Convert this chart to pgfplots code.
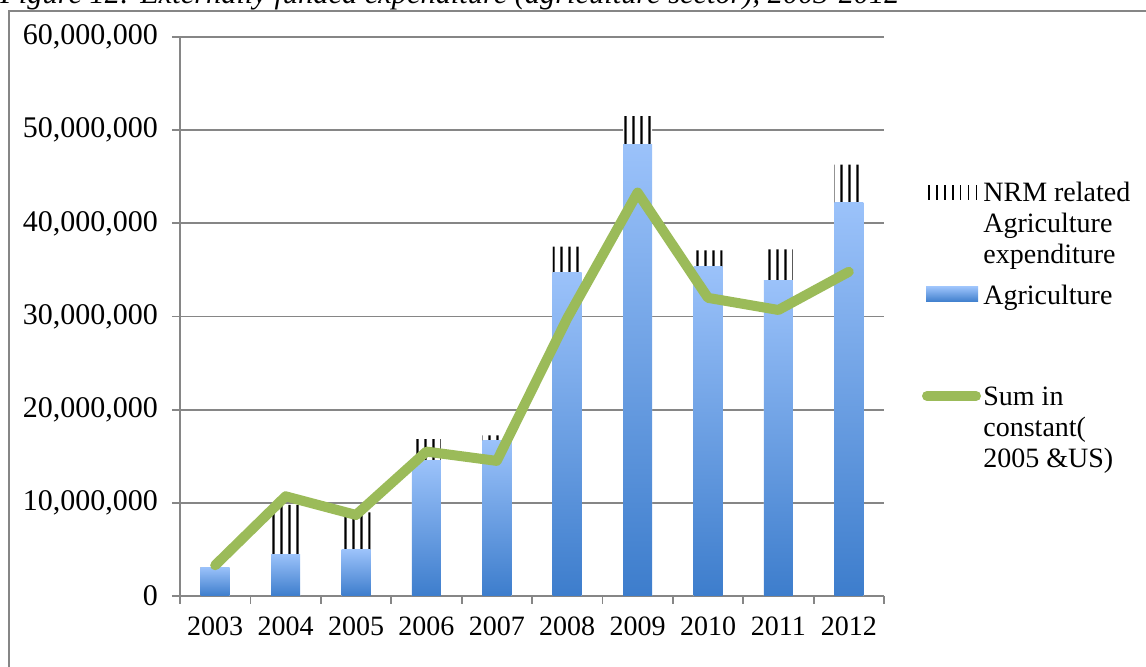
\documentclass[border=0pt]{standalone}
\usepackage{pgfplots}
\usepackage{pgfplotstable}
\pgfplotsset{compat=1.18}
\usepackage{fontspec}
\setmainfont{Liberation Serif}
\usetikzlibrary{patterns}

\definecolor{gridgray}{RGB}{134,134,134}
\definecolor{agrtop}{RGB}{155,194,250}
\definecolor{agrbot}{RGB}{61,125,204}
\definecolor{sumgreen}{RGB}{155,187,89}

% tall tile so the renderer shows no seams between tiles
\pgfdeclarepatternformonly{nrmlines}{\pgfpointorigin}{\pgfqpoint{4pt}{60pt}}{\pgfqpoint{4pt}{60pt}}{
  \pgfpathrectangle{\pgfqpoint{0.2pt}{-1pt}}{\pgfqpoint{1.3pt}{62pt}}
  \pgfusepath{fill}
}

% x = category index (2003 = 0); total = Agriculture + NRM related
\pgfplotstableread{
x agr      total    sum
0 3100000  3100000  3300000
1 4500000  9770000  10700000
2 4940000  8980000  8700000
3 14500000 16850000 15500000
4 16700000 17250000 14500000
5 34700000 37500000 29800000
6 48500000 51500000 43300000
7 35400000 37100000 32000000
8 33900000 37200000 30700000
9 42200000 46300000 34800000
}\expdata

\begin{document}
\begin{tikzpicture}[x=1pt,y=1pt]
% page = 1146x667 px at 0.5pt per px; axis box corner (px 180,596) sits at (0,0)
\useasboundingbox (-90,-35.5) rectangle (483,298);
\clip (-90,-35.5) rectangle (483,298);

% outer frame and the (cropped) caption
\draw[gridgray, line width=0.75pt] (-85.5,-60) rectangle (520,292.5);
\node[anchor=base west, inner sep=0pt, font=\fontsize{15.2}{17}\selectfont\itshape]
  at (-90,296) {Figure 12: Externally funded expenditure (agriculture sector), 2003-2012};

\begin{axis}[
    at={(0,0)}, anchor=south west,
    scale only axis,
    width=352pt, height=279.5pt,
    ybar,
    bar width=14.5pt,
    xmin=-0.5, xmax=9.5,
    ymin=0, ymax=60000000,
    xtick={-0.5,0.5,...,9.5},
    x tick label as interval,
    xticklabels={2003,2004,2005,2006,2007,2008,2009,2010,2011,2012},
    ytick={0,10000000,20000000,30000000,40000000,50000000,60000000},
    scaled y ticks=false,
    yticklabel style={/pgf/number format/fixed, /pgf/number format/1000 sep={,},
                      /pgf/number format/assume math mode=true, xshift=-3.5pt,
                      font=\fontsize{15}{17}\selectfont},
    xticklabel style={yshift=-3pt, font=\fontsize{14}{16}\selectfont},
    axis lines*=left,
    axis line style={gridgray, line width=0.9pt, -},
    tick style={gridgray, line width=0.9pt},
    tick align=outside,
    major tick length=4pt,
    ymajorgrids,
    major grid style={gridgray, line width=0.9pt},
    clip=false,
]
% NRM related part: hatched bar up to the total, the Agriculture bar covers its lower part
\addplot[bar shift=0pt, draw=none, preaction={fill=white}, pattern=nrmlines, pattern color=black]
  table[x=x, y=total] {\expdata};
% Agriculture: one plot per year so each bar gets its own gradient
\pgfplotsinvokeforeach{0,...,9}{
  \addplot[bar shift=0pt, draw=none, top color=agrtop, bottom color=agrbot,
           restrict x to domain=#1:#1]
    table[x=x, y=agr] {\expdata};
}
% Sum in constant 2005 US$
\addplot[sharp plot, sumgreen, line width=5pt, line cap=round, line join=round, mark=none]
  table[x=x, y=sum] {\expdata};
\end{axis}

% legend
\foreach \i in {0,...,6}
  \draw[line width=0.85pt] (374.5+\i*3.95,198) -- ++(0,7.5);
\shade[top color=agrtop, bottom color=agrbot] (373,147) rectangle (399,154.5);
\draw[sumgreen, line width=5pt, line cap=round] (373.5,100) -- (398,100);
\begin{scope}[every node/.style={anchor=base west, inner sep=0pt, font=\fontsize{14}{16}\selectfont}]
  \node at (401.5,197) {NRM related};
  \node at (401.5,181.5) {Agriculture};
  \node at (401.5,166) {expenditure};
  \node at (401.5,145.5) {Agriculture};
  \node at (401.5,95) {Sum in};
  \node at (401.5,79.5) {constant(};
  \node at (401.5,64) {2005 \&US)};
\end{scope}
\end{tikzpicture}
\end{document}
